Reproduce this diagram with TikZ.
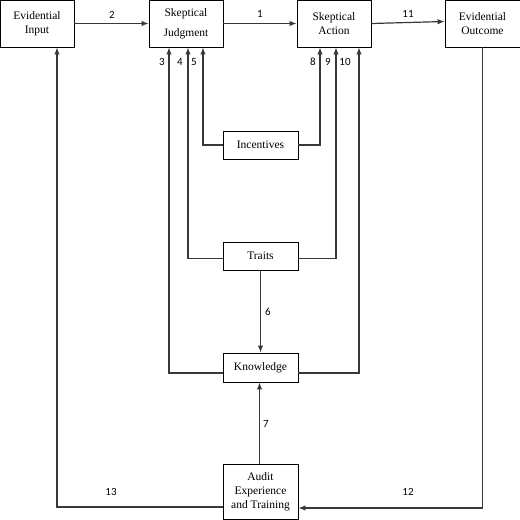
\documentclass[tikz,border=0pt]{standalone}
\usepackage{fontspec}
\setmainfont{Liberation Serif}
\newfontfamily\numfont{Carlito}
\usetikzlibrary{arrows.meta}
\begin{document}
\begin{tikzpicture}[x=1pt,y=-1pt,
  box/.style={draw=black,line width=0.9pt,align=center,inner sep=0pt,font=\fontsize{11.5}{14}\selectfont},
  conn/.style={draw=black!78,line width=1.2pt},
  arr/.style={conn,-{Latex[length=7pt,width=5.5pt]}},
  num/.style={font=\numfont\fontsize{11}{13}\selectfont,inner sep=0pt}]
\useasboundingbox (0,0) rectangle (520,520);
\node[box,minimum width=74pt,minimum height=47pt] (ei) at (37,23.5) {Evidential\\Input};
\node[box,minimum width=74pt,minimum height=47pt] (sj) at (186,23.5) {Skeptical\\[6pt]Judgment};
\node[box,minimum width=74pt,minimum height=47pt] (sa) at (334,23.5) {Skeptical\\Action};
\node[box,minimum width=75pt,minimum height=47pt] (eo) at (482.5,23.5) {Evidential\\Outcome};
\node[box,minimum width=75pt,minimum height=28pt] (in) at (260.5,145) {Incentives};
\node[box,minimum width=75pt,minimum height=28pt] (tr) at (260.5,256) {Traits};
\node[box,minimum width=75pt,minimum height=29pt] (kn) at (260.5,367.5) {Knowledge};
\node[box,minimum width=75pt,minimum height=55pt] (au) at (260.5,491.5) {Audit\\Experience\\and Training};
% top row
\draw[arr] (ei.east) -- (sj.west);
\draw[arr] (sj.east) -- (sa.west);
\draw[arr] (sa.east) -- ([yshift=2pt]eo.west);
% into Skeptical Judgment
\draw[arr] ([yshift=-5.5pt]kn.west) -| ([xshift=-17pt]sj.south);
\draw[arr] ([yshift=-2.5pt]tr.west) -| ([xshift=2pt]sj.south);
\draw[arr] (in.west) -| ([xshift=17pt]sj.south);
% into Skeptical Action
\draw[arr] (in.east) -| ([xshift=-14pt]sa.south);
\draw[arr] ([yshift=-2.5pt]tr.east) -| ([xshift=2pt]sa.south);
\draw[arr] ([yshift=-5.5pt]kn.east) -| ([xshift=25pt]sa.south);
% vertical
\draw[arr] (tr.south) -- (kn.north);
\draw[arr] ([xshift=-1pt]au.north) -- ([xshift=-1pt]kn.south);
% feedback
\draw[arr] (eo.south) |- ([yshift=-16.5pt]au.east);
\draw[arr] ([yshift=-15.5pt]au.west) -| ([xshift=20pt]ei.south);
% labels
\node[num] (l2) at (112,15) {2};
\node[num] (l1) at (260,14) {1};
\node[num] (l11) at (408,14) {11};
\node[num] (l3) at (162,62) {3};
\node[num] (l4) at (180,62) {4};
\node[num] (l5) at (194,62) {5};
\node[num] (l8) at (313,62) {8};
\node[num] (l9) at (328,62) {9};
\node[num] (l10) at (345,62) {10};
\node[num] (l6) at (268,312) {6};
\node[num] (l7) at (266,424) {7};
\node[num] (l12) at (408,492) {12};
\node[num] (l13) at (111,492) {13};
\end{tikzpicture}
\end{document}
